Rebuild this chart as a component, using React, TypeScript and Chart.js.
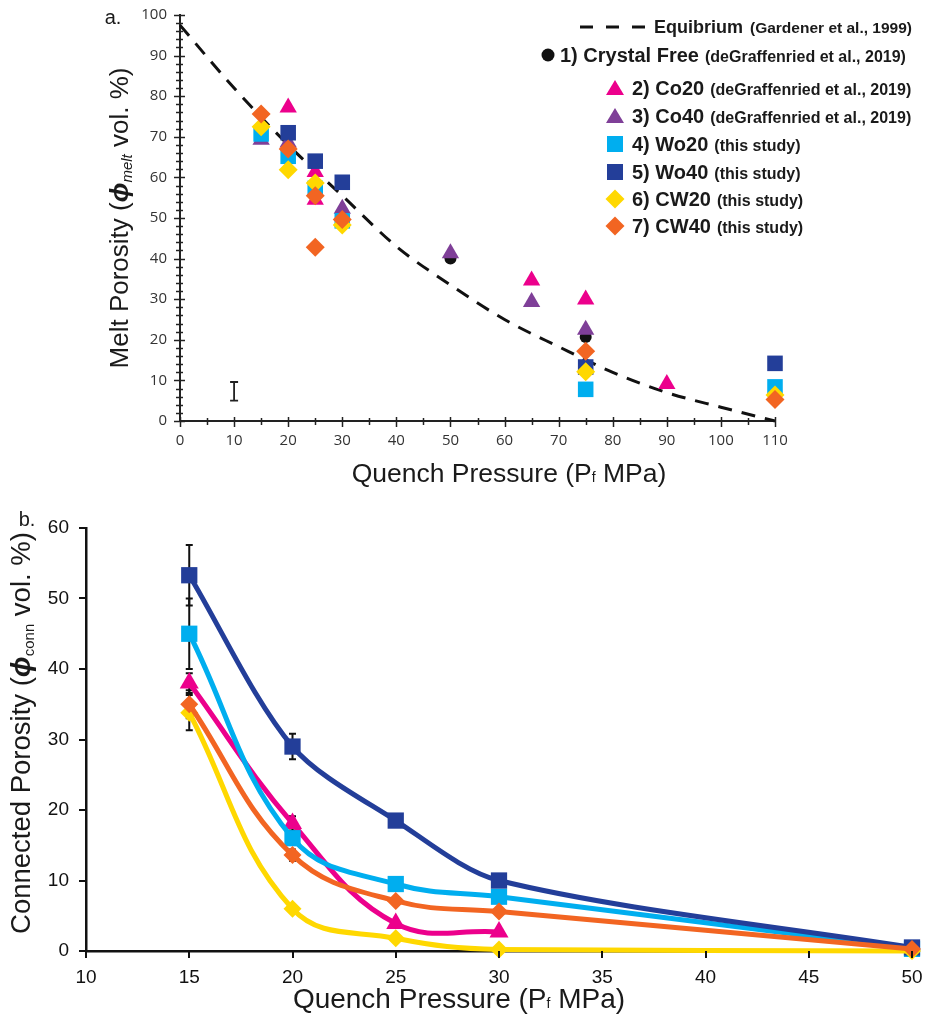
import React, { useEffect, useRef } from 'react';
import { Chart, registerables } from 'chart.js';

Chart.register(...registerables);

const SANS = '"Liberation Sans", Arial, Helvetica, sans-serif';
const TICK_A_FONT = '"Open Sans", "Liberation Sans", sans-serif';

const PINK = '#EC008C';
const PURPLE = '#7F3F98';
const LIGHT_BLUE = '#00AEEF';
const DARK_BLUE = '#233E99';
const YELLOW = '#FFD800';
const ORANGE = '#F26522';
const BLACK = '#111111';

// ---------------- Panel a: melt porosity ----------------
const xTicksA = [0, 10, 20, 30, 40, 50, 60, 70, 80, 90, 100, 110];
const yTicksA = [0, 10, 20, 30, 40, 50, 60, 70, 80, 90, 100];
const xMinorStepA = 5;
const yMinorStepA = 2;

const equilP = [0, 10, 20, 30, 40, 50, 60, 70, 80, 90, 100, 110];
const equilMelt = [97.5, 82, 68, 55.5, 43, 33.5, 25, 18.3, 12, 7, 3.4, 0];

const crystalP = [50, 75];
const crystalMelt = [40, 20.7];
const co20P = [20, 25, 25, 65, 75, 90];
const co20Melt = [77.2, 61.3, 54.5, 34.6, 29.9, 9.1];
const co40P = [15, 20, 30, 50, 65, 75];
const co40Melt = [69.3, 68.6, 52.3, 41.3, 29.3, 22.5];
const wo20P = [15, 20, 25, 30, 75, 110];
const wo20Melt = [70.7, 65.2, 57.3, 49.3, 7.8, 8.4];
const wo40P = [20, 25, 30, 75, 110];
const wo40Melt = [71, 64, 58.8, 13.3, 14.2];
const cw20P = [15, 20, 25, 30, 75, 110];
const cw20Melt = [72.5, 61.9, 58.6, 48.3, 12.1, 6.4];
const cw40P = [15, 20, 25, 25, 30, 75, 110];
const cw40Melt = [75.6, 67, 55.5, 42.8, 49.6, 17.2, 5.3];

const sampleErrP = [10];
const sampleErrMelt = [7.3];
const sampleErrSize = [2.3];

// ---------------- Panel b: connected porosity ----------------
const xTicksB = [10, 15, 20, 25, 30, 35, 40, 45, 50];
const yTicksB = [0, 10, 20, 30, 40, 50, 60];

const pressureB = [15, 20, 25, 30, 50];
const co20PB = [15, 20, 25, 30];
const co20Conn = [38, 18.1, 3.9, 2.7];
const co20Err = [1.4, 1.0, 0.4, 0.3];
const wo20Conn = [45, 16, 9.5, 7.7, 0.3];
const wo20Err = [5, 0.8, 0.5, 0.4, 0];
const wo40Conn = [53.3, 29, 18.5, 10, 0.5];
const wo40Err = [4.3, 1.8, 0.8, 0.5, 0];
const cw20Conn = [33.8, 6, 1.8, 0.2, 0];
const cw20Err = [2.5, 0.5, 0.3, 0.2, 0];
const cw40Conn = [35, 13.6, 7.1, 5.6, 0.3];
const cw40Err = [2, 0.8, 0.5, 0.3, 0];

const legendRows = [
  { main: '2) Co20', note: '(deGraffenried et al., 2019)', color: PINK, shape: 'triangle' },
  { main: '3) Co40', note: '(deGraffenried et al., 2019)', color: PURPLE, shape: 'triangle' },
  { main: '4) Wo20', note: '(this study)', color: LIGHT_BLUE, shape: 'square' },
  { main: '5) Wo40', note: '(this study)', color: DARK_BLUE, shape: 'square' },
  { main: '6) CW20', note: '(this study)', color: YELLOW, shape: 'diamond' },
  { main: '7) CW40', note: '(this study)', color: ORANGE, shape: 'diamond' },
];
const legendRowY = [88, 116, 144, 172, 199, 226];

function pts(xs: number[], ys: number[]) {
  return xs.map((x, i) => ({ x, y: ys[i] }));
}

function markerSet(label: string, xs: number[], ys: number[], color: string, style: string, radius: number) {
  return {
    label,
    data: pts(xs, ys),
    backgroundColor: color,
    borderColor: color,
    pointStyle: style,
    pointRadius: radius,
    pointHoverRadius: radius,
    pointBorderWidth: 0,
    showLine: false,
    clip: false as any,
  };
}

const zeroPad = (s: any) => {
  s.paddingLeft = 0;
  s.paddingRight = 0;
  s.paddingTop = 0;
  s.paddingBottom = 0;
};

const ticksPluginA = {
  id: 'ticksA',
  afterDatasetsDraw(chart: any) {
    const { ctx, chartArea, scales } = chart;
    const sx = scales.x;
    const sy = scales.y;
    ctx.save();
    ctx.strokeStyle = '#222';
    ctx.lineWidth = 1.5;
    for (let v = sy.min; v <= sy.max + 1e-9; v += yMinorStepA) {
      const y = Math.round(sy.getPixelForValue(v)) + 0.5;
      const major = yTicksA.includes(v);
      ctx.beginPath();
      ctx.moveTo(chartArea.left - (major ? 6 : 4), y);
      ctx.lineTo(chartArea.left + (major ? 5 : 3), y);
      ctx.stroke();
    }
    for (let v = sx.min; v <= sx.max + 1e-9; v += xMinorStepA) {
      const x = Math.round(sx.getPixelForValue(v)) + 0.5;
      const major = xTicksA.includes(v);
      ctx.beginPath();
      ctx.moveTo(x, chartArea.bottom - (major ? 4 : 3));
      ctx.lineTo(x, chartArea.bottom + (major ? 6 : 4));
      ctx.stroke();
    }
    // sample error bar
    ctx.lineWidth = 1.8;
    ctx.strokeStyle = '#222';
    sampleErrP.forEach((p, i) => {
      const x = sx.getPixelForValue(p);
      const y1 = sy.getPixelForValue(sampleErrMelt[i] + sampleErrSize[i]);
      const y2 = sy.getPixelForValue(sampleErrMelt[i] - sampleErrSize[i]);
      ctx.beginPath();
      ctx.moveTo(x, y1);
      ctx.lineTo(x, y2);
      ctx.moveTo(x - 4, y1);
      ctx.lineTo(x + 4, y1);
      ctx.moveTo(x - 4, y2);
      ctx.lineTo(x + 4, y2);
      ctx.stroke();
    });
    ctx.restore();
  },
};

const ticksPluginB = {
  id: 'ticksB',
  beforeDatasetsDraw(chart: any) {
    const { ctx, scales } = chart;
    const sx = scales.x;
    const sy = scales.y;
    ctx.save();
    ctx.strokeStyle = BLACK;
    ctx.lineWidth = 2;
    chart.data.datasets.forEach((ds: any) => {
      if (!ds.errorBars) return;
      ds.data.forEach((p: any, j: number) => {
        const e = ds.errorBars[j];
        if (!e) return;
        const x = sx.getPixelForValue(p.x);
        const y1 = sy.getPixelForValue(p.y + e);
        const y2 = sy.getPixelForValue(p.y - e);
        ctx.beginPath();
        ctx.moveTo(x, y1);
        ctx.lineTo(x, y2);
        ctx.moveTo(x - 3.5, y1);
        ctx.lineTo(x + 3.5, y1);
        ctx.moveTo(x - 3.5, y2);
        ctx.lineTo(x + 3.5, y2);
        ctx.stroke();
      });
    });
    ctx.restore();
  },
  afterDatasetsDraw(chart: any) {
    const { ctx, chartArea, scales } = chart;
    const sx = scales.x;
    const sy = scales.y;
    ctx.save();
    ctx.strokeStyle = BLACK;
    ctx.lineWidth = 2;
    yTicksB.forEach((v) => {
      const y = Math.round(sy.getPixelForValue(v));
      ctx.beginPath();
      ctx.moveTo(chartArea.left - 7, y);
      ctx.lineTo(chartArea.left, y);
      ctx.stroke();
    });
    xTicksB.forEach((v) => {
      const x = Math.round(sx.getPixelForValue(v));
      ctx.beginPath();
      ctx.moveTo(x, chartArea.bottom);
      ctx.lineTo(x, chartArea.bottom + 7);
      ctx.stroke();
    });
    ctx.restore();
  },
};

function Marker({ shape, color, cx, cy }: { shape: string; color: string; cx: number; cy: number }) {
  const s = 20;
  let el: any = null;
  if (shape === 'circle') el = <circle cx={10} cy={10} r={6.5} fill={color} />;
  if (shape === 'triangle') el = <polygon points="10,2 19,17 1,17" fill={color} />;
  if (shape === 'square') el = <rect x={2} y={2} width={16} height={16} fill={color} />;
  if (shape === 'diamond') el = <polygon points="10,0.5 19.5,10 10,19.5 0.5,10" fill={color} />;
  return (
    <svg width={s} height={s} style={{ position: 'absolute', left: cx - 10, top: cy - 10 }}>
      {el}
    </svg>
  );
}

export default function App() {
  const refA = useRef<HTMLCanvasElement | null>(null);
  const refB = useRef<HTMLCanvasElement | null>(null);

  useEffect(() => {
    document.body.style.margin = '0';
    const tickFontA = { family: TICK_A_FONT, size: 15 };
    const chartA = new Chart(refA.current as HTMLCanvasElement, {
      type: 'scatter',
      data: {
        datasets: [
          markerSet('7) CW40', cw40P, cw40Melt, ORANGE, 'rectRot', 9.5),
          markerSet('6) CW20', cw20P, cw20Melt, YELLOW, 'rectRot', 9.5),
          markerSet('5) Wo40', wo40P, wo40Melt, DARK_BLUE, 'rect', 11),
          markerSet('4) Wo20', wo20P, wo20Melt, LIGHT_BLUE, 'rect', 11),
          markerSet('3) Co40', co40P, co40Melt, PURPLE, 'triangle', 10),
          markerSet('2) Co20', co20P, co20Melt, PINK, 'triangle', 10),
          markerSet('1) Crystal Free', crystalP, crystalMelt, BLACK, 'circle', 6),
          {
            label: 'Equibrium',
            data: pts(equilP, equilMelt),
            showLine: true,
            borderColor: BLACK,
            backgroundColor: BLACK,
            borderWidth: 3,
            borderDash: [14, 10],
            pointRadius: 0,
            pointHoverRadius: 0,
            cubicInterpolationMode: 'monotone',
            fill: false,
            clip: false as any,
          } as any,
        ],
      },
      options: {
        animation: false,
        responsive: false,
        maintainAspectRatio: false,
        events: [],
        layout: { padding: { left: 0, right: 150, top: 15, bottom: 0 } },
        plugins: { legend: { display: false }, tooltip: { enabled: false } },
        scales: {
          x: {
            type: 'linear',
            min: 0,
            max: 110,
            afterBuildTicks: (s: any) => {
              s.ticks = xTicksA.map((v) => ({ value: v }));
            },
            afterFit: (s: any) => {
              s.height = 79;
              zeroPad(s);
            },
            ticks: { font: tickFontA, color: '#333', padding: 11, maxRotation: 0, autoSkip: false },
            grid: { display: true, drawOnChartArea: false, drawTicks: false },
            border: { display: true, color: '#222', width: 2 },
          },
          y: {
            type: 'linear',
            min: 0,
            max: 100,
            afterBuildTicks: (s: any) => {
              s.ticks = yTicksA.map((v) => ({ value: v }));
            },
            afterFit: (s: any) => {
              s.width = 180;
              zeroPad(s);
            },
            ticks: { font: tickFontA, color: '#333', padding: 13, autoSkip: false },
            grid: { display: true, drawOnChartArea: false, drawTicks: false },
            border: { display: true, color: '#222', width: 2 },
          },
        },
      } as any,
      plugins: [ticksPluginA],
    });

    const lineSet = (
      label: string,
      xs: number[],
      ys: number[],
      err: number[],
      color: string,
      style: string,
      radius: number,
      tension: number
    ) => ({
      label,
      data: pts(xs, ys),
      errorBars: err,
      showLine: true,
      borderColor: color,
      backgroundColor: color,
      borderWidth: 5,
      tension,
      pointStyle: style,
      pointRadius: radius,
      pointHoverRadius: radius,
      pointBorderWidth: 0,
      fill: false,
      clip: false as any,
    });

    const tickFontB = { family: SANS, size: 19 };
    const chartB = new Chart(refB.current as HTMLCanvasElement, {
      type: 'scatter',
      data: {
        datasets: [
          lineSet('CW40', pressureB, cw40Conn, cw40Err, ORANGE, 'rectRot', 9, 0.4),
          lineSet('CW20', pressureB, cw20Conn, cw20Err, YELLOW, 'rectRot', 9, 0.4),
          lineSet('Wo40', pressureB, wo40Conn, wo40Err, DARK_BLUE, 'rect', 11.5, 0.3),
          lineSet('Wo20', pressureB, wo20Conn, wo20Err, LIGHT_BLUE, 'rect', 11.5, 0.4),
          lineSet('Co20', co20PB, co20Conn, co20Err, PINK, 'triangle', 11, 0.4),
        ] as any,
      },
      options: {
        animation: false,
        responsive: false,
        maintainAspectRatio: false,
        events: [],
        layout: { padding: { left: 0, right: 13, top: 28, bottom: 0 } },
        plugins: { legend: { display: false }, tooltip: { enabled: false } },
        scales: {
          x: {
            type: 'linear',
            min: 10,
            max: 50,
            afterBuildTicks: (s: any) => {
              s.ticks = xTicksB.map((v) => ({ value: v }));
            },
            afterFit: (s: any) => {
              s.height = 72;
              zeroPad(s);
            },
            ticks: { font: tickFontB, color: BLACK, padding: 15, maxRotation: 0, autoSkip: false },
            grid: { display: true, drawOnChartArea: false, drawTicks: false },
            border: { display: true, color: BLACK, width: 2.5 },
          },
          y: {
            type: 'linear',
            min: 0,
            max: 60,
            afterBuildTicks: (s: any) => {
              s.ticks = yTicksB.map((v) => ({ value: v }));
            },
            afterFit: (s: any) => {
              s.width = 86;
              zeroPad(s);
            },
            ticks: { font: tickFontB, color: BLACK, padding: 17, autoSkip: false },
            grid: { display: true, drawOnChartArea: false, drawTicks: false },
            border: { display: true, color: BLACK, width: 2.5 },
          },
        },
      } as any,
      plugins: [ticksPluginB],
    });

    return () => {
      chartA.destroy();
      chartB.destroy();
    };
  }, []);

  const abs = (left: number, top: number, extra: any = {}) => ({
    position: 'absolute' as const,
    left,
    top,
    whiteSpace: 'nowrap' as const,
    ...extra,
  });

  return (
    <div
      style={{
        position: 'absolute',
        left: 0,
        top: 0,
        width: 925,
        height: 1023,
        background: '#fff',
        fontFamily: SANS,
        color: '#1a1a1a',
        overflow: 'hidden',
      }}
    >
      <canvas ref={refA} width={925} height={500} style={{ position: 'absolute', left: 0, top: 0, width: 925, height: 500 }} />
      <canvas ref={refB} width={925} height={523} style={{ position: 'absolute', left: 0, top: 500, width: 925, height: 523 }} />

      {/* panel labels */}
      <div style={abs(113, 17, { transform: 'translate(-50%,-50%)', fontSize: 20 })}>a.</div>
      <div style={abs(27, 519, { transform: 'translate(-50%,-50%)', fontSize: 20 })}>b.</div>

      {/* panel a axis titles */}
      <div style={abs(123, 218, { transform: 'translate(-50%,-50%) rotate(-90deg)', fontSize: 26, lineHeight: '30px' })}>
        Melt Porosity (<i style={{ fontWeight: 'bold' }}>ϕ</i>
        <sub style={{ fontSize: 15, fontStyle: 'italic', verticalAlign: '-0.3em' }}>melt</sub> vol. %)
      </div>
      <div style={abs(509, 475, { transform: 'translate(-50%,-50%)', fontSize: 26.5, lineHeight: '30px' })}>
        Quench Pressure (P<span style={{ fontSize: 14 }}>f</span> MPa)
      </div>

      {/* panel b axis titles */}
      <div style={abs(25, 733, { transform: 'translate(-50%,-50%) rotate(-90deg)', fontSize: 27.5, lineHeight: '32px' })}>
        Connected Porosity (<i style={{ fontWeight: 'bold' }}>ϕ</i>
        <sub style={{ fontSize: 15, verticalAlign: '-0.3em' }}>conn</sub> vol. %)
      </div>
      <div style={abs(459, 1001, { transform: 'translate(-50%,-50%)', fontSize: 28, lineHeight: '30px' })}>
        Quench Pressure (P<span style={{ fontSize: 14 }}>f</span> MPa)
      </div>

      {/* legend for panel a */}
      <svg width={70} height={10} style={{ position: 'absolute', left: 578, top: 22 }}>
        <line x1={2} y1={5} x2={67} y2={5} stroke="#111" strokeWidth={3} strokeDasharray="13 13" />
      </svg>
      <div style={abs(654, 14, { height: 26, lineHeight: '26px', fontWeight: 'bold' })}>
        <span style={{ fontSize: 18 }}>Equibrium</span>
        <span style={{ fontSize: 15.5, marginLeft: 7 }}>(Gardener et al., 1999)</span>
      </div>

      <Marker shape="circle" color={BLACK} cx={548} cy={55} />
      <div style={abs(560, 42, { height: 26, lineHeight: '26px', fontWeight: 'bold' })}>
        <span style={{ fontSize: 20 }}>1) Crystal Free</span>
        <span style={{ fontSize: 16, marginLeft: 6 }}>(deGraffenried et al., 2019)</span>
      </div>

      {legendRows.map((r, i) => (
        <React.Fragment key={r.main}>
          <Marker shape={r.shape} color={r.color} cx={615} cy={legendRowY[i]} />
          <div style={abs(632, legendRowY[i] - 13, { height: 26, lineHeight: '26px', fontWeight: 'bold' })}>
            <span style={{ fontSize: 20 }}>{r.main}</span>
            <span style={{ fontSize: 16, marginLeft: 6 }}>{r.note}</span>
          </div>
        </React.Fragment>
      ))}
    </div>
  );
}
